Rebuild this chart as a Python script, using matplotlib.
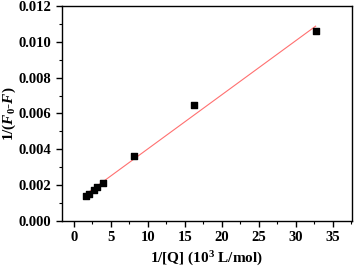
import numpy as np
import matplotlib
matplotlib.use('Agg')
import matplotlib.pyplot as plt
from matplotlib.ticker import MultipleLocator

# data
inv_q = [1.6, 2.0, 2.7, 3.2, 4.0, 8.1, 16.3, 32.7]
inv_df = [0.00140, 0.00150, 0.00172, 0.00188, 0.00212, 0.00362, 0.00645, 0.01060]

plt.rcParams['font.family'] = 'Liberation Serif'
plt.rcParams['font.weight'] = 'bold'
plt.rcParams['mathtext.fontset'] = 'custom'
plt.rcParams['mathtext.rm'] = 'Liberation Serif:bold'
plt.rcParams['mathtext.it'] = 'Liberation Serif:bold:italic'
plt.rcParams['mathtext.bf'] = 'Liberation Serif:bold'

fig = plt.figure(figsize=(3.54, 2.71), dpi=100)
ax = fig.add_axes([0.175, 0.185, 0.819, 0.793])

k, b = np.polyfit(inv_q, inv_df, 1)
xl = np.array([min(inv_q), max(inv_q)])
ax.plot(xl, k * xl + b, color='#ff7070', lw=0.8)
ax.scatter(inv_q, inv_df, marker='s', s=14, color='black', zorder=3)

ax.set_xlim(-1.6, 37.6)
ax.set_ylim(0, 0.012)
ax.xaxis.set_major_locator(MultipleLocator(5))
ax.xaxis.set_minor_locator(MultipleLocator(2.5))
ax.yaxis.set_major_locator(MultipleLocator(0.002))
ax.yaxis.set_minor_locator(MultipleLocator(0.001))
ax.yaxis.set_major_formatter(matplotlib.ticker.FormatStrFormatter('%.3f'))
ax.tick_params(which='major', length=4, width=1, labelsize=10.5)
ax.tick_params(which='minor', length=2, width=0.8)
for s in ax.spines.values():
    s.set_linewidth(1)

ax.set_xlabel(r'1/[Q] (10$^3$ L/mol)', fontsize=11, fontweight='bold')
ax.set_ylabel(r'1/($F_0$-$F$)', fontsize=11, fontweight='bold')
ax.yaxis.set_label_coords(-0.15, 0.5)

plt.savefig('out.png', dpi=100)
